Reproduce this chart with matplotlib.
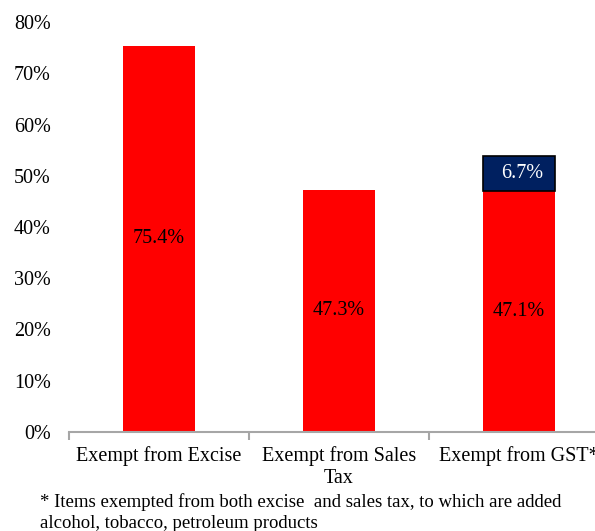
import numpy as np
import matplotlib.pyplot as plt
from matplotlib.ticker import PercentFormatter, FixedLocator

plt.rcParams['font.family'] = ['Liberation Serif', 'DejaVu Serif']

# --- data (shares of items) ---
categories = ["Exempt from Excise", "Exempt from Sales\nTax", "Exempt from GST*"]
base_vals = [75.4, 47.3, 47.1]
added_vals = [0.0, 0.0, 6.7]   # alcohol, tobacco, petroleum added for GST
note = ("* Items exempted from both excise  and sales tax, to which are added\n"
        "alcohol, tobacco, petroleum products")

x = np.arange(len(categories))

fig = plt.figure(figsize=(5.95, 5.31), dpi=100)
# axis runs past the right edge a little, like the source
ax = fig.add_axes([69 / 595, 1 - 432 / 531, 540 / 595, 410 / 531])

ax.bar(x, base_vals, width=0.4, color='#ff0000', edgecolor='none')
for xi, b, a in zip(x, base_vals, added_vals):
    ax.text(xi, b / 2, f"{b:.1f}%", ha='center', va='center', fontsize=14.5, color='black')
    if a > 0:
        ax.bar(xi, a, bottom=b, width=0.4, color='#002060', edgecolor='black', linewidth=1.2)
        ax.text(xi + 0.02, b + a / 2, f"{a:.1f}%", ha='center', va='center',
                fontsize=14.5, color='white')

ax.set_xlim(-0.5, 2.5)
ax.set_ylim(0, 80)
ax.yaxis.set_major_locator(FixedLocator(np.arange(0, 81, 10)))
ax.yaxis.set_major_formatter(PercentFormatter(decimals=0))
ax.tick_params(axis='y', length=0, labelsize=14.5, pad=13)

ax.set_xticks(x)
ax.set_xticklabels(categories, fontsize=14.5)
ax.tick_params(axis='x', which='major', length=0, pad=10)
ax.set_xticks([-0.5, 0.5, 1.5, 2.5], minor=True)
ax.tick_params(axis='x', which='minor', length=6, width=1.5, color='#a6a6a6', direction='out')

for s in ['top', 'right', 'left']:
    ax.spines[s].set_visible(False)
ax.spines['bottom'].set_color('#a6a6a6')
ax.spines['bottom'].set_linewidth(1.5)

fig.text(40 / 595, 1 - 493 / 531, note, ha='left', va='top', fontsize=13.5, linespacing=1.3)

fig.savefig("out.png", dpi=100)
